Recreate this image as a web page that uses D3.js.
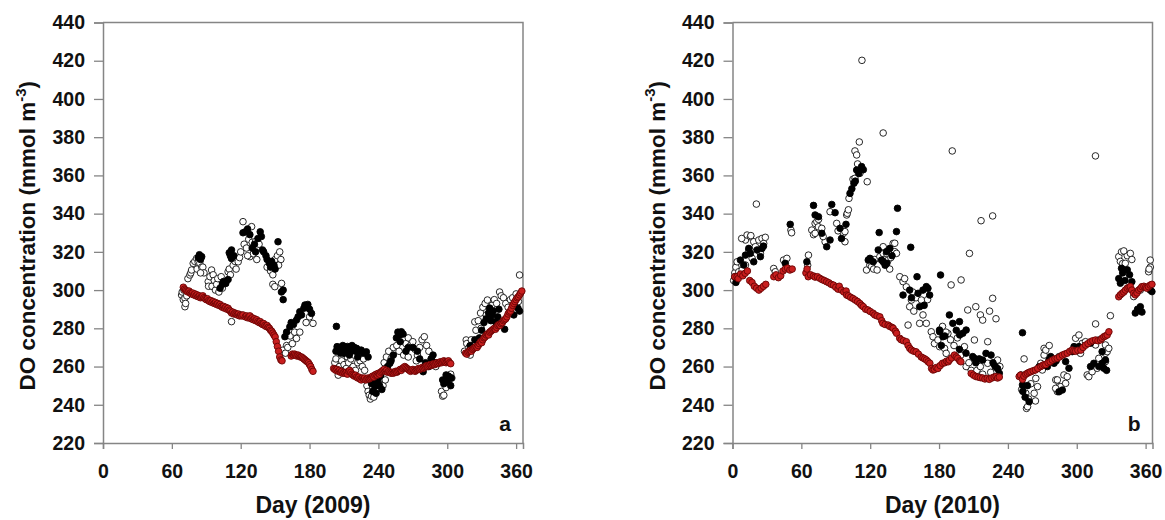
<!DOCTYPE html>
<html><head><meta charset="utf-8">
<script src="https://cdn.jsdelivr.net/npm/d3@7"></script>
<style>
html,body{margin:0;padding:0;background:#fff;}
svg{display:block;font-family:"Liberation Sans",Arial,sans-serif;}
</style></head>
<body><svg id="c" width="1165" height="520"></svg>
<script>
// ---------------- DATA ----------------
const xTicks = [0, 60, 120, 180, 240, 300, 360];
const yTicks = [220, 240, 260, 280, 300, 320, 340, 360, 380, 400, 420, 440];
const panelLetters = ["a", "b"];
const xTitles = ["Day (2009)", "Day (2010)"];
const yTitleMain = "DO concentration (mmol m";
const yTitleSup = "-3";

// Panel a (2009): [day, DO]
const aRed = [[70,301.5],[71,300.5],[72,300],[73,299.5],[74,299],[75,299.5],[76,298.5],[77,298],[78,298.5],[79,297.5],[80,298],[81,297],[82,297.5],[83,296.5],[84,297],[85,296],[86,296.5],[87,297],[88,296],[89,295.5],[90,295],[91,295.5],[92,294.5],[93,294],[94,294.5],[95,293.5],[96,294],[97,293],[98,293.5],[99,292.5],[100,293],[101,292],[102,292.5],[103,291.5],[104,291],[105,291.5],[106,290.5],[107,291],[108,290],[109,290.5],[110,289.5],[111,289],[112,288],[113,288.5],[114,287.5],[115,288],[116,287.5],[117,287],[118,287.5],[119,286.5],[120,287],[121,286.5],[122,287],[124,286],[125,286.5],[126,285.5],[127,286],[128,286.5],[129,285],[130,285.5],[131,284.5],[132,285],[133,284],[134,284.5],[135,283.5],[136,283],[137,283.5],[138,282.5],[139,282],[140,282.5],[141,281.5],[142,281],[143,281.5],[144,280.5],[145,280],[146,279],[147,278.5],[148,277.5],[149,276.5],[150,275.5],[151,273],[152,270.5],[153,268],[154,265],[155,263.5],[156,263],
[164,265.5],[165,266.5],[166,266],[167,266.5],[168,266],[169,265.5],[170,266],[171,265.5],[172,265],[173,265],[174,264.5],[175,264],[176,263.5],[177,263],[178,262.5],[179,262],[180,261],[181,260],[182,258.5],[183,257.5],
[201,259],[202,258.5],[203,258],[204,258.5],[205,257.5],[206,258],[207,257],[208,257.5],[209,256.5],[210,257],[211,256.5],[212,257],[213,256],[214,257.5],[215,258],[216,257],[217,256],[218,255.5],[219,255],[220,255.5],[221,254.5],[222,254],[223,254.5],[224,253.5],[225,253],[226,254],[227,253.5],[228,254],[229,253],[230,253.5],[231,254],[232,253.5],[233,254],[234,254.5],[235,255],[236,254.5],[237,255.5],[238,256],[239,255.5],[240,256.5],[241,256],[242,257],[243,257.5],[244,258],[245,258.5],[246,257.5],[247,258],[248,257],[249,257.5],[250,257],[251,256.5],[252,257],[253,256.5],[254,257],[255,257.5],[256,257],[257,257.5],[258,258],[259,258.5],[260,258],[261,259],[262,259.5],[263,260],[264,259.5],[265,259],[266,258.5],[267,258],[268,257.5],[269,258],[270,258.5],[271,258],[272,257.5],[273,258],[274,258.5],[275,259],[276,258.5],[277,259],[278,259.5],[279,259],[280,259.5],[281,260],[282,260.5],[283,260],[284,260.5],[285,261],[286,260.5],[287,261],[288,261.5],[289,261],[290,261.5],[291,262],[292,261.5],[293,262],[294,262.5],[295,262],[296,262.5],[297,263],[298,262.5],[299,262],[300,262.5],[301,263],[302,262],[303,261.5],
[316,267],[317,266.5],[318,267.5],[319,268],[320,268.5],[321,268],[322,269],[323,269.5],[324,270],[325,270.5],[326,270],[327,271],[328,272],[329,273],[330,272.5],[331,274],[332,275],[333,275.5],[334,276.5],[335,277],[336,276.5],[337,278],[338,278.5],[339,279],[340,279.5],[341,280],[342,279.5],[343,280.5],[344,281.5],[345,282],[346,281.5],[347,282.5],[348,283],[349,284],[350,284.5],[351,285],[352,286],[353,287.5],[354,288.5],[355,289],[356,290.5],[357,292],[358,293],[359,294],[360,295],[361,296],[362,296.5],[363,297.5],[364,298.5],[365,299.5]];

const aFilled = [[83,317],[84,318.5],[85,316],[86,317.5],
[102,301],[104,303],[105,304.5],[107,303.5],[109,305.5],
[110,319.5],[111,318],[112,321],[112,316.5],[114,318],
[122,330],[124,330.5],[126,332],[128,329],[130,322],[132,324],[133,320],[135,327],[137,330.5],[138,328],
[139,321],[140,320],[142,318],[143,316],[145,314],[146,312],[147,315],[149,313],[150,311],
[152.5,325.3],[155.5,299],[157,300],[157,295],
[158.5,275.6],[160,278],[162.8,280.8],[164,283],[166,282],[168.6,284.3],[170,286],[171.5,288.7],[173,287],[175,290.5],[176,292.2],[178.5,292.5],[180,290],[181.7,287.8],
[203.4,281],
[203,268],[204,270.4],[206,270],[207,267],[208,269],[209,271],[210,266.9],[211,269],[212,269.5],[213,270.5],[214.7,266],[216,268],[217,271],[218,269],[219,270],[220,268],[221,269.5],[222,265],[223,268],[225,268.6],[227,267],[229.5,267.7],[231,265],
[234,251],[235,247],[236,253],[237,249.5],[238,246],[239,252],[240,254],[241,250],[242,255.5],[243,248],
[248,260],[250,261.7],[251,263],[253,266],[255.7,275],[257,278],[258.6,276.5],[259,273],[260,278.2],[261.5,277],[264,268],[266,270],[270,270],[274,268],[276,264],[279,257.3],[281,262],[284,260],[286,264],[287.6,266],[290,262],
[296,253],[297,251],[299,255.6],[300,252],[301,255],[303,250],[303.5,254],
[320,271],[324,274],[328,275],[330,279],[332,283],[334,285],[336,288],[337,290.6],[338,284],[339,287],[340,289],[342,283.4],[344,286],[345,290],[350,279.5],[358,287],[361.6,290.5],[363,289]];

const aOpen = [[68.5,297.4],[69,299],[70,295],[70.5,300],[71.4,295.8],[71.4,291.3],[72,293],[73,297],
[74,306],[75.7,307.9],[76.5,309],[77.2,310.5],[78.6,314],[80,315],[81.6,316.6],[82,311],[83,314.5],[84.4,314.1],[86,312],[87,312],[88,309],[85,309],
[91.7,304.4],[92,302],[93.2,307],[94.6,310.5],[95,302],[96,308],[97,305],[98,300],[99,303],[100,306],[101,299],[103,307],[104,301],
[109,309.6],[110,311],[111,308],[113.4,313],[115,315],[116,311],[117.8,314.8],[119,317],[112,283.5],
[122,335.8],[123,324],[125,322],[127,326.6],[128,317.5],[129.5,333.2],[130,325],[131,319],[133,325.5],[134,316],[136,324],[120,320],[126,318],
[143,312],[145.4,314],[146,310],[148,308],[148,303],[149.7,301.8],[150,316],[152,318],[154,320],[155,316],[153,313],[155.6,303.5],
[157,268.6],[159,267],[160,271],[161,270],[163,276],[165,272],[167,278],[168.6,274.7],[171.5,278],[177,283],[180,286],[183,282.6],
[202,262],[203,264],[204,258],[205,255.5],[206,260],[208,263],[209,257],[210,261],[212,259],[213,265],[214,262],[216,264],[218,260],[219,266],[220,258],[222,262],[224,263],[226,260],[228,258],[227,264],
[230,250],[231,247],[232,245],[233,243],[234,244.5],[236,244],[238,248],[240,252],[242,254],[244,250],[246,253],
[245,262],[247,265],[249,268],[251,264],[253,270],[256,271],[258,268],[262,266],[264,272],[266,275],[268,271],[270,273],[272,269],[274,266],[276,270],[278,274],[280,275.6],[282,271],[284,268],[286,264],[288,262],[290,260],[273,263],[266,265],
[295,247],[296,244.5],[297,245],[299,249],[301,252],[303,256],[304,254],
[315,268],[316.5,273.9],[317,272],[319,270],[320,266],[321,274],[322,269],[323,271],[324,283.4],[325,279],[327,284],[329.6,280],[329,288],[331,291],[333,293],[334,287],[335,294.8],[337,290],[339,292],[341,295],[343,293],[345.6,299],[347,297],[349,296],[351,293],[353,291],[355,295],[357,296],[360,298],[362,294],[363,307.9]];

// Panel b (2010): [day, DO]
const bRed = [[2,307],[4,307],[5,306],[7,308.4],[9,307.5],[11,308.8],[13,310],[15,305],[17,304],[19,302],[21,301],[23,300],[25,301],[27,302],[29,303],
[36,307],[38,308],[40,306.5],[42,307.5],[44,310],[46,311],[48,311.5],[50,310.5],[52,311],
[64,309],[65,311],[66,307],[68,308],[70.5,307.4],[72,306.8],[74,307],[76,306.2],[78,305.5],[80,305],[82,304.4],[84,303.8],[86,303],[88,302.6],[90,301.5],[92,300.5],[93,302],[95,300],[97,299],[99,299.5],[99.5,297.4],[101,297],[103,296.2],[105,295.6],[107,294.8],[109,294],[111,293],[112.5,292],[114,291.3],
[116,290],[118,289.6],[120,288.8],[122.5,287.9],[124,287],[126,286.5],[128.4,286],[130,284],[131,282.6],[133,282],[135.6,281.7],[137,281],[139,280.5],[140,280],[142,278.5],[143,277.4],
[145.7,274.8],[147,274],[149,273.5],[151.5,273],[153,271],[154.5,269.5],[156,268.6],[158,268],[160,267.7],[162,266.5],[164.5,265],[166,264.5],[167.5,264],[169,263.4],[170.5,262.5],[172,261.7],
[173.5,259],[174.7,258.2],[176,258.5],[177.5,259.5],[179,259],[181,260.5],[183,261.7],[185,262],[186.5,262.8],[188,262.5],[189,263.4],[191,264.5],[193.4,266],[195,265],[196.3,264.3],[198,263],[199,262.5],
[208,256.4],[210,255.5],[212,254.8],[214,254.5],[216,254.2],[218,254],[220,253.5],[222,253.8],[223.8,253.3],[226,254],[228,254.5],[229.7,254.8],[231,254],[232.5,254.5],
[249.8,254.8],[251,255.5],[252.7,253.3],[254,255],[255.6,256],[257,256.5],[258.5,257],[260,257.3],[262,257.8],[264,258.2],[266,259],[268.6,260],[270,260.5],[271.5,261],[273,261],[275,262],[276.8,262.5],[278.7,263.4],[281,264],[283,264.3],[285,265],[287.4,266],[289.5,266.5],[291.7,267],[294,268],[296,268.6],[297.5,268.2],[299,268],[301,268.5],[303.6,268.6],[305.5,270],[307.7,271.2],[309.8,272],[312,273],[314,273.5],[316.4,273.9],[318.5,273.5],[320.7,273.9],[322,274.8],[323.6,275.6],[325,276],[326.5,276.5],[328,278.2],
[336.6,296.5],[338,297.5],[339.5,298.3],[341,299],[342.4,300],[344,301],[345.5,301.5],[346.7,301.8],[348,300],[349.6,298.3],[351,297.5],[352.5,298.5],[354,300],[355.5,300.8],[356.8,301.8],[358.5,302],[360,301.5],[361,301],[362.5,301.8],[364,302.6],[365.5,303]];

const bFilled = [[2,307],[3,304],[6.9,315.7],[9.8,313.1],[11.3,318.3],[14.2,321.8],[15.6,319.2],[18.5,314.8],[21.4,321],[24.3,317.5],[25.7,321.8],[27,323],
[46,314],[50.3,334.4],[64.8,314.8],
[70.6,344.3],[72,339.3],[74.9,338.4],[77.8,329.7],[82.1,322.7],[85,326.2],
[86.5,344.8],[89.4,340.5],[93.7,332.3],[98.9,334.4],[95,327],
[102.4,350.6],[104,353],[105.8,355.9],[107,357],[108.2,362.8],[110,361],[112.5,364.6],[114,363],
[118.3,315.7],[119.8,316.6],[122.6,314.8],[127,321],[127.8,330.1],[129.9,315.7],[131.3,314.8],[133,313],[134.2,320.1],[134.5,314],[137.1,321.8],[139,318],[142.9,330.6],[143.8,342.8],
[155.3,322.4],[160.8,307],[168.9,301.8],
[148.6,297.4],[154.4,300],[156,296],[161.7,298.3],[163.1,291.3],[166,300],[167,292],[170.3,300.9],[171.8,297.4],
[180.5,278.2],[181.3,307.9],[183.4,275.6],[182,271],
[180.4,279.1],[185,276],[189,287],[192,282.6],[195,279],[197.8,283.5],[198,276.5],[200.7,277.4],[203.6,279.1],[197.8,269],[203.5,267],[209.3,265.2],[210.8,264.3],[212,262],[215,264],[218,263.4],[220.9,266.9],[225.3,266],[227,262],[229,260],[231,258.9],[232.5,256.5],
[252.7,277.7],
[251.3,255.6],[252.7,250.4],[253,247],[255,244],[258.5,241.6],[257,250],
[267.2,259.9],[274.4,260],[275.8,263.4],[277.3,265.2],[280.2,261.7],[282,263],[284.5,246.8],[287.4,247.7],[290.3,262.6],[293.2,259.1],
[296.1,267.8],[297.6,270.4],[301.9,270.4],[312,272.2],[312,260],[314.9,261.7],[319.2,260],[322.1,261.7],[322.1,267.8],[323.6,259.1],[325,263.4],[326,258],
[336.6,306],[338,303.6],[340,309],[342,305],[344,310.6],[346,308],[348,304.4],[339,311.4],
[351,288],[353,290],[354,289.6],[355.4,291.3],[356.8,288.5],[365.5,299.2],[364,300]];

const bOpen = [[1,305],[2,309],[3,312],[4,314.8],[5.5,309.6],[8.4,310.5],[11.3,313.1],[11.3,326.2],[12.7,328.8],[14.2,321],[15.6,327.9],[17.1,316.6],[18.5,325.3],[20,322.7],[20.8,345],[22.9,326.2],[24.3,319.2],[25.7,327],[27.2,324.4],[28.6,327.6],[8,327],[16,328.5],
[35.9,311.3],[37.3,309.6],[44.5,315.7],[47.4,316.6],[50.9,331.4],[51.5,330],
[66.2,318.3],[65.5,313],
[69.1,331.4],[70.6,329],[72,334.9],[72,329.7],[73.5,335.8],[74.9,333.1],[77.8,332.3],[80.7,325.3],[79,328],[75,337],
[85,341],[90.8,334.9],[96.6,329.7],[98,330.6],[98,325.3],[99.5,339.3],[92,331],[100,340.2],[101,342],
[101.5,348],[105,358],[106.7,358.5],[106.7,372.8],[108.2,370.7],[109,366],[110.5,377.5],[111,361.1],[112.8,420.2],[117.4,356.7],
[116.8,310.5],[119.7,313.1],[121.2,312.3],[123,311],[124,316],[126,310.5],[128.4,317.5],[131.3,319.2],[131.3,322.7],[131.3,382.2],[134.2,319.2],[135.6,315.7],[138,317],[140,324.4],[141.4,320.1],[141.4,324.5],[142.9,319.2],[137,311],
[145.8,307],[148.6,304.4],[150,306],[151.5,301.7],[153,281.7],[154.4,291.3],[155.9,294.8],[157,299],[158,289],[160,296],[163.1,282.6],[164.6,294.8],[166,287],[168.9,282.6],[170,295],
[173.2,278.2],[174.7,275.6],[176,272],[179,273.9],[180.5,270.4],[184.8,269.5],[186.2,266.9],[187.7,277.3],
[190.5,302.7],[191.5,372.8],[199.2,305.3],[206.5,319.2],[216.6,336.3],[226.7,338.8],[226.7,295.7],[205,289.6],[212,291.3],[216,287],[218,284.3],[224,289],[229.6,285],
[183,281],[186,278],[190,274],[193,271],[196,275],[199,266],[202.1,270.4],[203.6,260],[206,262],[208,258],[210.8,273.9],[213,258],[216,260],[218,256],[222.4,273],[222.4,261.7],[225,257],[228,261],[231,263.4],[233,260],
[254.1,264],[252,248],[255.6,246],[256.2,238.1],[257.1,239],[258,243],[260,251],[262.9,246],[264.3,253.8],[265.8,249.5],[264,242],
[268.6,261.7],[270,258.2],[271.5,266],[271.5,269.5],[273,268.6],[276,271],[281.7,253],[283.1,246.9],[283.1,253],[284.5,249.5],[284.5,265.2],[286,249.5],[288.8,255.6],[290.3,251.2],[291.7,254.7],[281.6,248.6],
[299,274.8],[301.9,276.5],[303.3,266.9],[304.8,270.4],[304.8,272.1],[307.6,273],[309.1,255.6],[310.5,254.7],[313.4,257.3],[316.4,282.3],[316.4,271.3],[316.3,370.2],[317.8,259.1],[319.2,264.3],[319.2,273.9],[325,262.6],[325,266.9],[325,271.3],[326.5,267.8],[327.9,269.5],[329.3,286.6],
[336.6,317.5],[338,315],[339,320],[340,313.9],[342.3,314],[344,318],[346.7,319.2],[348,316],[341,320.5],
[349.6,296.6],[351,298],[352.5,299.2],[355.4,300],[362.6,309.6],[364,315.7],[364.1,312],[363,311]];

// ---------------- DRAW ----------------
const svg = d3.select("#c");
const plotTop = 22.5, plotBottom = 443;
const axisColor = "#858585";
const panels = [
  {left: 103, right: 523, open: aOpen, filled: aFilled, red: aRed, letter: panelLetters[0], title: xTitles[0]},
  {left: 732.5, right: 1152.5, open: bOpen, filled: bFilled, red: bRed, letter: panelLetters[1], title: xTitles[1]}
];

panels.forEach(p => {
  const x = d3.scaleLinear().domain([0, 366]).range([p.left, p.right]);
  const y = d3.scaleLinear().domain([220, 440]).range([plotBottom, plotTop]);
  const g = svg.append("g");

  g.append("path")
    .attr("d", `M${p.left},${plotTop}H${p.right}V${plotBottom}`)
    .attr("fill", "none").attr("stroke", axisColor).attr("stroke-width", 1.5);

  const gx = g.append("g").attr("transform", `translate(0,${plotBottom})`)
    .call(d3.axisBottom(x).tickValues(xTicks).tickSizeOuter(0).tickSize(6).tickPadding(15));
  const gy = g.append("g").attr("transform", `translate(${p.left},0)`)
    .call(d3.axisLeft(y).tickValues(yTicks).tickSizeOuter(0).tickSize(9).tickPadding(9));
  [gx, gy].forEach(a => {
    a.select(".domain").attr("stroke", axisColor).attr("stroke-width", 1.5);
    a.selectAll(".tick line").attr("stroke", axisColor).attr("stroke-width", 1.3);
    a.selectAll(".tick text").attr("fill", "#111").attr("font-size", 19.5)
      .attr("font-weight", "bold").attr("font-family", "Liberation Sans, Arial, sans-serif");
  });

  const R = 3.3;
  g.append("g").selectAll("circle").data(p.open).join("circle")
    .attr("cx", d => x(d[0])).attr("cy", d => y(d[1])).attr("r", R)
    .attr("fill", "#fff").attr("stroke", "#111").attr("stroke-width", 0.9);
  g.append("g").selectAll("circle").data(p.filled).join("circle")
    .attr("cx", d => x(d[0])).attr("cy", d => y(d[1])).attr("r", R)
    .attr("fill", "#000").attr("stroke", "#000").attr("stroke-width", 0.9);
  g.append("g").selectAll("circle").data(p.red).join("circle")
    .attr("cx", d => x(d[0])).attr("cy", d => y(d[1])).attr("r", R)
    .attr("fill", "#c81e1e").attr("stroke", "#6a0505").attr("stroke-width", 0.9);

  g.append("text").attr("x", p.right - 12).attr("y", 431)
    .attr("text-anchor", "end").attr("font-size", 21).attr("font-weight", "bold")
    .attr("fill", "#111").text(p.letter);

  g.append("text").attr("x", (p.left + p.right) / 2).attr("y", 513)
    .attr("text-anchor", "middle").attr("font-size", 23).attr("font-weight", "bold")
    .attr("fill", "#111").text(p.title);

  const yt = g.append("text")
    .attr("transform", `translate(${p.left - 68},${(plotTop + plotBottom) / 2 + 3}) rotate(-90)`)
    .attr("text-anchor", "middle").attr("font-size", 22.5).attr("font-weight", "bold")
    .attr("fill", "#111");
  yt.append("tspan").text(yTitleMain);
  yt.append("tspan").attr("dy", -9.5).attr("font-size", 15).text(yTitleSup);
  yt.append("tspan").attr("dy", 9.5).text(")");
});
</script>
</body></html>
